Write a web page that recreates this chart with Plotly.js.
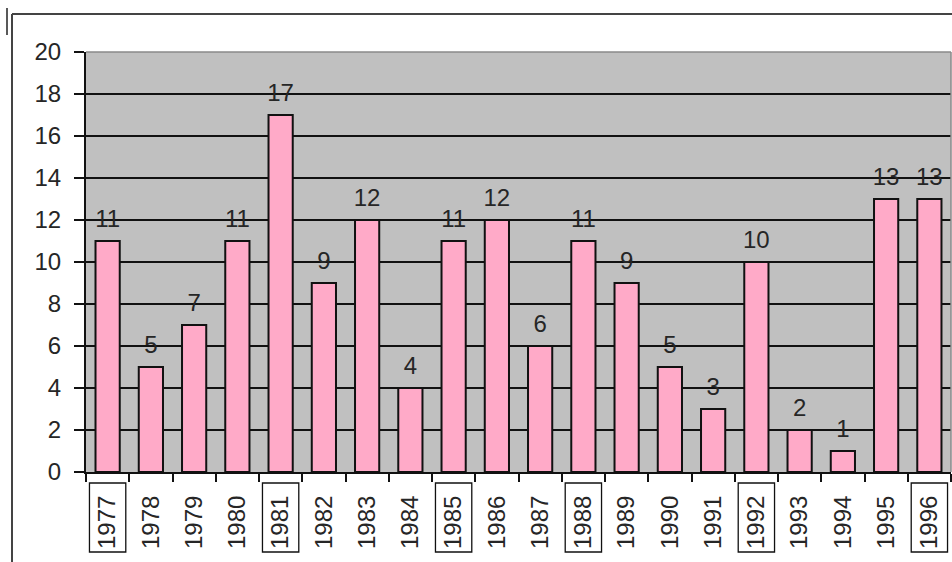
<!DOCTYPE html>
<html>
<head>
<meta charset="utf-8">
<script src="https://cdn.plot.ly/plotly-3.0.1.min.js"></script>
<style>html,body{margin:0;padding:0;background:#fff;}#chart{width:952px;height:562px;}</style>
</head>
<body>
<div id="chart"></div>
<script>
const years = ['1977','1978','1979','1980','1981','1982','1983','1984','1985','1986','1987','1988','1989','1990','1991','1992','1993','1994','1995','1996'];
const counts = [11,5,7,11,17,9,12,4,11,12,6,11,9,5,3,10,2,1,13,13];
const boxedYears = ['1977','1981','1985','1988','1992','1996'];
const yTicks = [0,2,4,6,8,10,12,14,16,18,20];

const FONT = '"Liberation Sans", Arial, sans-serif';
const TXT = '#262626';
const FS = 24;

const L = 86, T = 52, W = 952, H = 562, R = 1, B = 90;
const pw = W - L - R, ph = H - T - B;
const px = x => (x - L) / pw;
const py = y => (H - B - y) / ph;

const shapes = [];
shapes.push({type:'line', xref:'paper', yref:'paper', x0:0, x1:1, y0:1, y1:1, line:{color:'#8a8a8a', width:1.5}});
shapes.push({type:'line', xref:'paper', yref:'paper', x0:1, x1:1, y0:0, y1:1, line:{color:'#8a8a8a', width:1.5}});
shapes.push({type:'line', xref:'paper', yref:'paper', x0:px(12), x1:px(960), y0:py(14), y1:py(14), line:{color:'#444', width:2}});
shapes.push({type:'line', xref:'paper', yref:'paper', x0:px(12), x1:px(12), y0:py(14), y1:py(570), line:{color:'#444', width:2}});
shapes.push({type:'line', xref:'paper', yref:'paper', x0:px(7), x1:px(7), y0:py(8), y1:py(35), line:{color:'#222', width:1.5}});
boxedYears.forEach(yr => {
  const i = years.indexOf(yr);
  shapes.push({type:'rect', xref:'x', yref:'paper', x0:i-0.42, x1:i+0.42, y0:py(552), y1:py(483), line:{color:'#111', width:1.3}, fillcolor:'rgba(0,0,0,0)'});
});

const bars = {
  type:'bar', x:years, y:counts,
  marker:{color:'#ffaac8', line:{color:'#111', width:2}},
  width:0.56, hoverinfo:'skip'
};

const labels = {
  type:'scatter', mode:'markers+text', x:years, y:counts,
  text:counts.map(String), textposition:'top center',
  textfont:{family:FONT, size:FS, color:TXT},
  marker:{size:12, color:'rgba(0,0,0,0)'},
  cliponaxis:false, hoverinfo:'skip'
};

const layout = {
  width:W, height:H,
  margin:{l:L, r:R, t:T, b:B, pad:0},
  paper_bgcolor:'#ffffff', plot_bgcolor:'#c0c0c0',
  showlegend:false,
  font:{family:FONT, size:FS, color:TXT},
  xaxis:{
    type:'category', tickson:'boundaries', ticks:'outside', ticklen:8, tickwidth:2, tickcolor:'#111',
    showline:true, linecolor:'#111', linewidth:2, showgrid:false, zeroline:false,
    tickangle:-90, tickfont:{family:FONT, size:FS, color:TXT}, ticklabelstandoff:12,
    range:[-0.5, years.length-0.5], fixedrange:true
  },
  yaxis:{
    range:[0,20], tickvals:yTicks, ticktext:yTicks.map(String),
    ticks:'outside', ticklen:10, tickwidth:2, tickcolor:'#111',
    showline:true, linecolor:'#111', linewidth:2,
    showgrid:true, gridcolor:'#111', gridwidth:1.6, zeroline:false,
    tickfont:{family:FONT, size:FS, color:TXT}, ticklabelstandoff:8, fixedrange:true
  },
  shapes:shapes
};

Plotly.newPlot('chart', [bars, labels], layout, {staticPlot:true, displayModeBar:false});
</script>
</body>
</html>
